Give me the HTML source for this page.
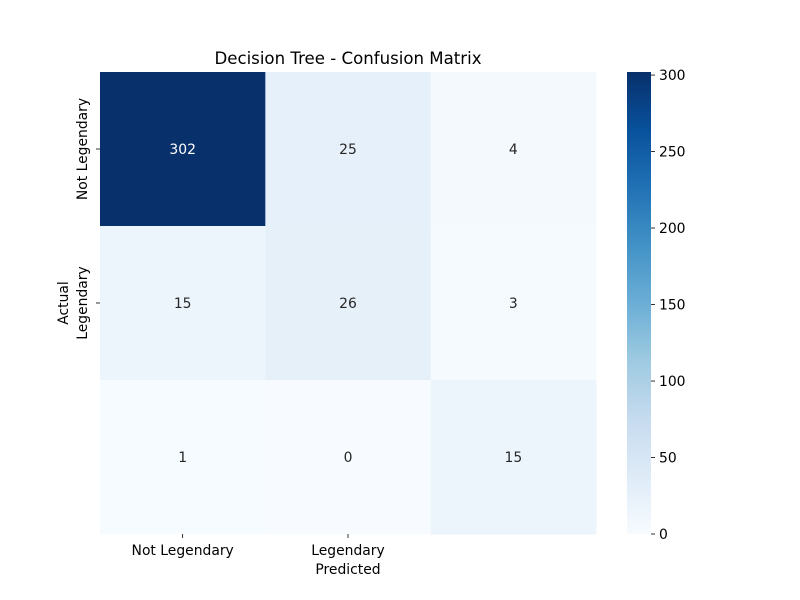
<!DOCTYPE html>
<html><head><meta charset="utf-8"><style>body{margin:0;background:#fff}svg{display:block;font-family:"DejaVu Sans","Liberation Sans",sans-serif}</style></head>
<body>
<svg id="c" width="800" height="600" xmlns="http://www.w3.org/2000/svg">
<defs><linearGradient id="g" x1="0" y1="1" x2="0" y2="0">
<stop offset="0" stop-color="#f7fbff"/><stop offset="0.125" stop-color="#deebf7"/><stop offset="0.25" stop-color="#c6dbef"/><stop offset="0.375" stop-color="#9ecae1"/><stop offset="0.5" stop-color="#6baed6"/><stop offset="0.625" stop-color="#4292c6"/><stop offset="0.75" stop-color="#2171b5"/><stop offset="0.875" stop-color="#08519c"/><stop offset="1" stop-color="#08306b"/></linearGradient></defs>
<text x="348" y="64" font-size="16.6" text-anchor="middle">Decision Tree - Confusion Matrix</text>
<g id="cells"></g>
<rect x="627" y="72" width="24" height="462" fill="url(#g)"/>
<g id="cb"></g>
<g id="ax"></g>
<text x="348" y="574" font-size="13.9" text-anchor="middle">Predicted</text>
<text transform="translate(68,303) rotate(-90)" font-size="13.9" text-anchor="middle">Actual</text>
</svg>
<script>
const matrix=[[302,25,4],[15,26,3],[1,0,15]];
const xLabels=["Not Legendary","Legendary",""];
const yLabels=["Not Legendary","Legendary",""];
const cbTicks=[0,50,100,150,200,250,300];
const vmin=0,vmax=302;
const NS="http://www.w3.org/2000/svg";
const X0=100,X1=596,Y0=72,Y1=534,cw=(X1-X0)/3,ch=(Y1-Y0)/3;
const stops=[[247,251,255],[222,235,247],[198,219,239],[158,202,225],[107,174,214],[66,146,198],[33,113,181],[8,81,156],[8,48,107]];
function color(v){let t=Math.max(0,Math.min(1,(v-vmin)/(vmax-vmin)))*8;let i=Math.min(7,Math.floor(t)),f=t-i;const a=stops[i],b=stops[i+1];return `rgb(${a.map((c,k)=>Math.round(c+(b[k]-c)*f)).join(',')})`;}
function lum(v){let t=(v-vmin)/(vmax-vmin);return t>0.5;}
function mk(tag,at,parent){const e=document.createElementNS(NS,tag);for(const k in at)e.setAttribute(k,at[k]);parent.appendChild(e);return e;}
const cells=document.getElementById('cells'),ax=document.getElementById('ax'),cb=document.getElementById('cb');
matrix.forEach((row,r)=>row.forEach((v,c)=>{
const x=X0+c*cw,y=Y0+r*ch;
const rc=mk('rect',{x:x,y:y,width:cw+0.5,height:ch+0.5,fill:color(v)},cells);


const t=mk('text',{x:x+cw/2,y:y+ch/2+5,'font-size':13.9,'text-anchor':'middle',fill:lum(v)?'#fff':'#262626'},cells);
t.textContent=v;


}));
xLabels.forEach((l,i)=>{const cx=X0+(i+0.5)*cw;
if(!l)return;
mk('line',{x1:cx,x2:cx,y1:Y1,y2:Y1+4,stroke:'#000','stroke-width':0.8},ax);
const t=mk('text',{x:cx,y:Y1+21,'font-size':13.9,'text-anchor':'middle'},ax);t.textContent=l;

});
yLabels.forEach((l,i)=>{const cy=Y0+(i+0.5)*ch;
if(!l)return;
mk('line',{x1:X0-4,x2:X0,y1:cy,y2:cy,stroke:'#000','stroke-width':0.8},ax);
const t=mk('text',{transform:`translate(${X0-13},${cy}) rotate(-90)`,'font-size':13.9,'text-anchor':'middle'},ax);t.textContent=l;

});
cbTicks.forEach(v=>{const y=Y1-(v-vmin)/(vmax-vmin)*(Y1-Y0);
mk('line',{x1:651,x2:655,y1:y,y2:y,stroke:'#000','stroke-width':0.8},cb);
const t=mk('text',{x:659,y:y+5,'font-size':13.9},cb);t.textContent=v;

});
</script>
</body></html>
